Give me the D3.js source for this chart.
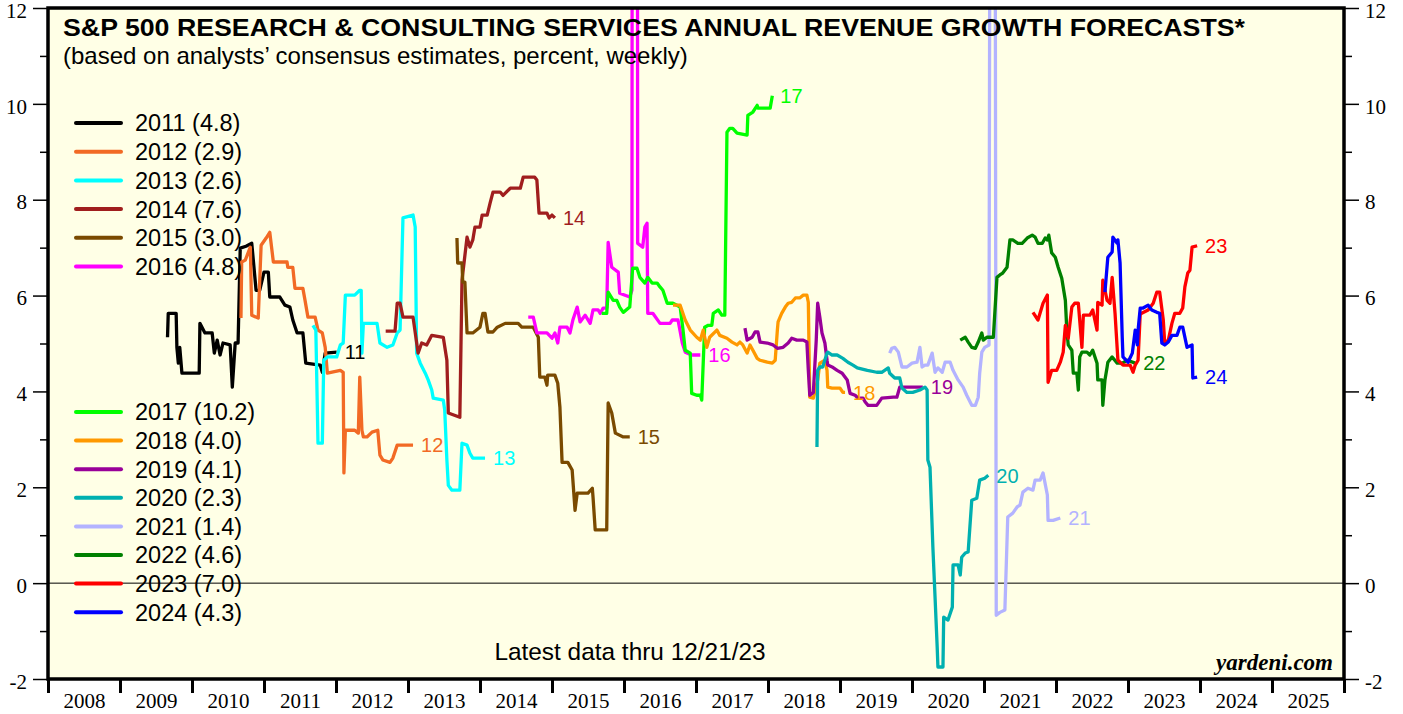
<!DOCTYPE html>
<html lang="en">
<head>
<meta charset="UTF-8">
<title>S&amp;P 500 Research &amp; Consulting Services Revenue Growth Forecasts</title>
<script src="https://d3js.org/d3.v7.min.js"></script>
<style>
  body { margin: 0; background: #fff; }
  svg { display: block; }
  .sans { font-family: Arial, "Liberation Sans", sans-serif; }
  .serif { font-family: "Times New Roman", "Liberation Serif", serif; }
</style>
</head>
<body>
<svg id="chart" width="1403" height="714"></svg>
<script>
// weekly consensus forecasts, [decimal year, percent]
const s2011 = [[2009.66,5.13],[2009.67,5.63],[2009.78,5.63],[2009.79,4.92],[2009.81,4.59],[2009.83,4.92],[2009.86,4.38],[2010.10,4.38],[2010.11,5.42],[2010.18,5.22],[2010.28,5.22],[2010.31,4.80],[2010.35,5.07],[2010.39,4.76],[2010.43,5.01],[2010.53,4.97],[2010.56,4.09],[2010.60,5.01],[2010.64,5.01],[2010.67,6.99],[2010.75,7.03],[2010.83,7.09],[2010.89,6.11],[2010.94,6.11],[2011.00,6.49],[2011.06,6.49],[2011.08,5.97],[2011.22,5.97],[2011.29,5.80],[2011.36,5.76],[2011.40,5.49],[2011.46,5.22],[2011.54,5.22],[2011.58,4.59],[2011.78,4.55],[2011.81,4.40],[2011.85,4.80],[2012.01,4.82]];
const s2012 = [[2010.68,5.53],[2010.69,6.70],[2010.74,6.74],[2010.81,7.01],[2010.83,5.59],[2010.92,5.53],[2010.96,7.05],[2011.03,7.20],[2011.08,7.32],[2011.13,6.70],[2011.32,6.70],[2011.33,6.59],[2011.40,6.59],[2011.43,6.15],[2011.54,6.15],[2011.57,5.90],[2011.61,5.55],[2011.71,5.55],[2011.75,5.28],[2011.81,5.22],[2011.85,4.92],[2011.88,4.38],[2012.06,4.44],[2012.10,4.40],[2012.11,2.30],[2012.13,3.19],[2012.26,3.19],[2012.31,3.13],[2012.33,4.30],[2012.36,3.19],[2012.38,3.05],[2012.43,3.05],[2012.50,3.15],[2012.58,3.19],[2012.61,2.67],[2012.65,2.57],[2012.75,2.52],[2012.79,2.61],[2012.85,2.88],[2013.07,2.88]];
const s2013 = [[2011.68,5.38],[2011.72,5.28],[2011.75,2.92],[2011.81,2.92],[2011.83,4.65],[2011.88,4.72],[2012.01,4.72],[2012.06,4.97],[2012.10,5.01],[2012.13,6.01],[2012.26,6.01],[2012.33,6.11],[2012.35,6.11],[2012.36,4.80],[2012.38,5.42],[2012.57,5.42],[2012.61,5.01],[2012.71,4.92],[2012.79,4.97],[2012.85,5.22],[2012.89,5.28],[2012.93,7.62],[2013.07,7.68],[2013.10,7.43],[2013.12,4.80],[2013.17,4.59],[2013.24,4.38],[2013.28,4.24],[2013.33,4.03],[2013.35,3.86],[2013.49,3.82],[2013.51,3.61],[2013.54,2.57],[2013.56,2.04],[2013.61,1.94],[2013.72,1.94],[2013.75,2.92],[2013.82,2.88],[2013.86,2.71],[2013.90,2.61],[2014.07,2.61]];
const s2014 = [[2012.69,5.26],[2012.82,5.26],[2012.85,5.84],[2012.89,5.84],[2012.93,5.55],[2013.07,5.55],[2013.14,4.80],[2013.19,5.01],[2013.26,4.97],[2013.33,5.17],[2013.49,5.13],[2013.54,4.65],[2013.56,3.55],[2013.72,3.46],[2013.75,6.32],[2013.82,7.22],[2013.86,7.01],[2013.90,7.16],[2013.93,7.43],[2014.00,7.43],[2014.03,7.68],[2014.10,7.68],[2014.14,7.93],[2014.18,8.16],[2014.28,8.16],[2014.32,8.09],[2014.42,8.24],[2014.56,8.24],[2014.60,8.47],[2014.76,8.47],[2014.79,8.41],[2014.82,7.72],[2014.93,7.72],[2014.96,7.62],[2015.00,7.68],[2015.04,7.62]];
const s2015 = [[2013.68,7.20],[2013.69,6.68],[2013.75,6.68],[2013.76,6.28],[2013.79,6.28],[2013.82,5.22],[2013.90,5.22],[2014.00,5.34],[2014.04,5.63],[2014.07,5.63],[2014.11,5.24],[2014.18,5.24],[2014.24,5.34],[2014.35,5.42],[2014.53,5.42],[2014.58,5.34],[2014.74,5.34],[2014.81,5.13],[2014.83,4.30],[2014.90,4.30],[2014.93,4.13],[2014.94,4.34],[2015.04,4.34],[2015.08,4.17],[2015.11,3.67],[2015.14,2.52],[2015.22,2.52],[2015.28,2.36],[2015.32,1.52],[2015.35,1.88],[2015.50,1.88],[2015.56,1.98],[2015.57,1.79],[2015.60,1.11],[2015.76,1.11],[2015.78,3.76],[2015.83,3.55],[2015.88,3.13],[2015.99,3.05],[2016.08,3.05]];
const s2016 = [[2014.67,5.55],[2014.74,5.55],[2014.79,5.22],[2014.93,5.22],[2015.00,5.11],[2015.04,5.22],[2015.08,5.01],[2015.11,5.34],[2015.21,5.34],[2015.25,5.22],[2015.29,5.49],[2015.35,5.76],[2015.39,5.45],[2015.46,5.59],[2015.53,5.42],[2015.57,5.70],[2015.64,5.70],[2015.67,5.63],[2015.71,5.74],[2015.76,5.74],[2015.78,7.11],[2015.83,6.59],[2015.92,6.49],[2015.94,6.05],[2016.08,5.97],[2016.11,6.11],[2016.12,30],[2016.18,30],[2016.19,7.09],[2016.26,7.01],[2016.29,7.43],[2016.32,7.51],[2016.33,5.63],[2016.40,5.63],[2016.50,5.42],[2016.64,5.42],[2016.67,5.49],[2016.75,5.49],[2016.81,5.01],[2016.85,4.82],[2016.94,4.76],[2017.06,4.76]];
const s2017 = [[2015.69,5.63],[2015.76,5.63],[2015.78,6.07],[2015.85,5.90],[2015.90,5.90],[2015.94,5.76],[2015.99,5.65],[2016.08,5.76],[2016.12,6.57],[2016.18,6.57],[2016.22,6.38],[2016.29,6.26],[2016.33,6.38],[2016.39,6.26],[2016.46,6.26],[2016.50,6.18],[2016.54,6.11],[2016.60,5.84],[2016.68,5.84],[2016.78,5.76],[2016.82,5.28],[2016.85,4.86],[2016.92,4.80],[2016.94,3.96],[2017.01,3.92],[2017.06,3.92],[2017.08,3.82],[2017.12,5.34],[2017.17,5.38],[2017.22,5.38],[2017.24,5.63],[2017.31,5.70],[2017.36,5.59],[2017.40,5.59],[2017.43,9.41],[2017.47,9.49],[2017.51,9.49],[2017.57,9.39],[2017.71,9.35],[2017.72,9.76],[2017.79,9.83],[2017.85,9.97],[2017.86,9.91],[2018.03,9.91],[2018.06,10.17]];
const s2018 = [[2016.68,5.80],[2016.78,5.80],[2016.85,5.49],[2016.92,5.28],[2017.01,5.13],[2017.06,5.07],[2017.10,5.28],[2017.15,4.92],[2017.19,5.13],[2017.29,5.28],[2017.33,5.17],[2017.43,5.11],[2017.50,5.03],[2017.57,4.97],[2017.61,5.03],[2017.65,4.97],[2017.71,4.80],[2017.75,4.97],[2017.79,4.86],[2017.85,4.69],[2017.89,4.65],[2017.99,4.61],[2018.06,4.59],[2018.10,4.65],[2018.13,5.28],[2018.14,5.45],[2018.19,5.63],[2018.24,5.76],[2018.28,5.84],[2018.33,5.86],[2018.38,5.95],[2018.44,5.95],[2018.49,6.01],[2018.54,6.01],[2018.56,5.86],[2018.58,3.88],[2018.63,3.86],[2018.69,4.24],[2018.72,4.59],[2018.79,4.65],[2018.82,4.44],[2018.83,4.09],[2018.89,4.07],[2019.00,4.07],[2019.04,3.98],[2019.07,3.98]];
const s2019 = [[2017.68,5.32],[2017.71,5.07],[2017.78,5.13],[2017.82,5.24],[2017.86,5.24],[2017.89,5.03],[2017.99,5.01],[2018.07,4.97],[2018.13,4.90],[2018.21,4.92],[2018.28,5.01],[2018.33,5.11],[2018.40,5.07],[2018.49,5.07],[2018.54,5.03],[2018.56,4.44],[2018.58,3.92],[2018.63,3.98],[2018.67,5.07],[2018.69,5.84],[2018.72,5.55],[2018.75,5.22],[2018.79,5.01],[2018.82,4.65],[2018.83,4.55],[2018.89,4.51],[2018.96,4.44],[2019.03,4.38],[2019.10,4.24],[2019.14,3.96],[2019.21,3.92],[2019.25,3.86],[2019.32,3.86],[2019.35,3.78],[2019.39,3.71],[2019.51,3.71],[2019.58,3.86],[2019.74,3.88],[2019.79,3.88],[2019.83,4.09],[2020.15,4.09]];
const s2020 = [[2018.68,2.84],[2018.69,4.44],[2018.72,4.51],[2018.76,4.51],[2018.82,4.80],[2018.83,4.82],[2018.89,4.76],[2018.96,4.76],[2019.04,4.69],[2019.11,4.61],[2019.18,4.55],[2019.24,4.49],[2019.38,4.44],[2019.51,4.40],[2019.58,4.40],[2019.67,4.49],[2019.69,4.38],[2019.76,4.28],[2019.83,4.28],[2019.86,4.07],[2019.93,3.98],[2020.01,3.98],[2020.11,4.03],[2020.18,4.09],[2020.21,4.03],[2020.22,2.57],[2020.25,2.42],[2020.29,0.75],[2020.32,-0.29],[2020.35,-1.34],[2020.36,-1.75],[2020.43,-1.75],[2020.44,-0.71],[2020.50,-0.77],[2020.56,-0.50],[2020.57,0.38],[2020.64,0.38],[2020.67,0.17],[2020.69,0.54],[2020.74,0.63],[2020.78,0.65],[2020.83,1.73],[2020.90,1.77],[2020.94,2.15],[2021.01,2.19],[2021.06,2.25]];
const s2021 = [[2019.69,4.80],[2019.72,4.90],[2019.76,4.92],[2019.81,4.82],[2019.86,4.51],[2019.93,4.51],[2020.00,4.59],[2020.07,4.61],[2020.11,4.92],[2020.14,4.51],[2020.18,4.55],[2020.22,4.55],[2020.28,4.80],[2020.32,4.40],[2020.36,4.49],[2020.42,4.40],[2020.46,4.61],[2020.53,4.61],[2020.57,4.44],[2020.64,4.24],[2020.71,4.09],[2020.76,3.92],[2020.83,3.71],[2020.88,3.71],[2020.92,3.88],[2020.94,4.38],[2020.97,4.82],[2021.01,4.92],[2021.07,4.97],[2021.10,30],[2021.14,30],[2021.17,-0.67],[2021.22,-0.61],[2021.29,-0.56],[2021.33,1.38],[2021.40,1.46],[2021.46,1.59],[2021.50,1.63],[2021.54,1.90],[2021.61,1.98],[2021.68,1.94],[2021.71,2.15],[2021.78,2.15],[2021.82,2.30],[2021.88,1.84],[2021.89,1.31],[2021.96,1.31],[2022.06,1.36]];
const s2022 = [[2020.67,5.07],[2020.74,5.13],[2020.78,5.03],[2020.83,4.92],[2020.88,4.90],[2020.92,5.03],[2020.97,5.22],[2020.99,5.07],[2021.04,5.13],[2021.13,5.13],[2021.18,6.38],[2021.22,6.43],[2021.26,6.47],[2021.32,6.59],[2021.36,7.16],[2021.40,7.16],[2021.47,7.09],[2021.53,7.09],[2021.60,7.20],[2021.67,7.26],[2021.71,7.22],[2021.75,7.09],[2021.81,7.09],[2021.85,7.20],[2021.88,7.16],[2021.90,7.26],[2021.94,6.89],[2021.99,6.80],[2022.03,6.59],[2022.08,6.36],[2022.13,5.90],[2022.15,5.28],[2022.17,4.97],[2022.22,4.86],[2022.24,4.38],[2022.29,4.38],[2022.31,4.03],[2022.33,4.72],[2022.36,4.82],[2022.43,4.82],[2022.47,4.76],[2022.51,4.86],[2022.57,4.59],[2022.58,4.24],[2022.64,4.24],[2022.65,3.71],[2022.68,4.24],[2022.71,4.51],[2022.72,4.61],[2022.78,4.72],[2022.85,4.59],[2022.92,4.59],[2022.99,4.65],[2023.10,4.59]];
const s2023 = [[2021.68,5.65],[2021.75,5.49],[2021.82,5.84],[2021.88,6.01],[2021.89,4.19],[2021.94,4.44],[2022.01,4.44],[2022.06,4.61],[2022.10,4.82],[2022.13,5.38],[2022.17,5.11],[2022.22,5.76],[2022.26,5.84],[2022.31,5.84],[2022.36,4.92],[2022.38,5.59],[2022.47,5.59],[2022.51,5.70],[2022.57,5.28],[2022.58,5.86],[2022.64,5.80],[2022.65,6.32],[2022.71,5.90],[2022.75,5.84],[2022.78,6.38],[2022.82,5.63],[2022.86,4.65],[2022.93,4.55],[2023.03,4.55],[2023.07,4.40],[2023.10,4.55],[2023.14,4.65],[2023.17,5.63],[2023.19,5.63],[2023.28,5.70],[2023.35,5.84],[2023.40,6.07],[2023.44,6.07],[2023.49,5.49],[2023.51,5.01],[2023.56,5.07],[2023.61,5.42],[2023.65,5.63],[2023.72,5.63],[2023.76,5.74],[2023.79,6.18],[2023.83,6.47],[2023.86,6.53],[2023.89,7.01],[2023.96,7.04]];
const s2024 = [[2022.68,6.07],[2022.72,6.80],[2022.78,6.91],[2022.79,7.22],[2022.85,7.09],[2022.86,7.16],[2022.89,6.68],[2022.92,5.13],[2022.93,4.72],[2023.00,4.61],[2023.06,4.80],[2023.10,5.28],[2023.13,4.97],[2023.14,5.28],[2023.17,5.74],[2023.21,5.74],[2023.28,5.80],[2023.33,5.70],[2023.40,5.65],[2023.44,5.63],[2023.47,5.01],[2023.51,4.97],[2023.56,5.03],[2023.61,5.17],[2023.68,5.17],[2023.72,5.34],[2023.76,5.34],[2023.82,4.92],[2023.89,4.97],[2023.90,4.28],[2023.96,4.30]];

const years = [2011, 2012, 2013, 2014, 2015, 2016, 2017, 2018, 2019, 2020, 2021, 2022, 2023, 2024];
const latest = ["4.8", "2.9", "2.6", "7.6", "3.0", "4.8", "10.2", "4.0", "4.1", "2.3", "1.4", "4.6", "7.0", "4.3"];
const colors = ["#000000", "#F26A25", "#00FFFF", "#A01E1E", "#7A4A00", "#FF00FF", "#00FF00", "#FF9900",
  "#990099", "#00B0B0", "#B3B3FF", "#008000", "#FF0000", "#0000FF"];
const allSeries = [s2011, s2012, s2013, s2014, s2015, s2016, s2017, s2018, s2019, s2020, s2021, s2022, s2023, s2024];
const xYears = d3.range(2008, 2026);

const svg = d3.select("#chart");
const pLeft = 48, pRight = 1344, pTop = 8, pBottom = 679;

const x = d3.scaleLinear().domain([2008, 2026]).range([pLeft, pRight]);
const y = d3.scaleLinear().domain([-2, 12]).range([pBottom, pTop]);

svg.append("rect")
    .attr("x", pLeft).attr("y", pTop)
    .attr("width", pRight - pLeft).attr("height", pBottom - pTop)
    .attr("fill", "#FFFFE6");

svg.append("clipPath").attr("id", "plot-clip")
  .append("rect")
    .attr("x", pLeft).attr("y", pTop)
    .attr("width", pRight - pLeft).attr("height", pBottom - pTop);

// zero line
svg.append("line")
    .attr("x1", pLeft).attr("x2", pRight)
    .attr("y1", y(0)).attr("y2", y(0))
    .attr("stroke", "#000").attr("stroke-width", 1);

// axes
function styleAxis(g) {
    g.select(".domain").remove();
    g.selectAll("line").attr("stroke", "#000").attr("stroke-width", 1.5);
    g.selectAll("text").attr("class", "serif").attr("font-size", 21).attr("fill", "#000");
}
const majorY = d3.range(-2, 13, 2);
const minorY = d3.range(-1, 12, 2);
const plainNum = d => String(d);   // hyphen minus like the original

svg.append("g").attr("transform", `translate(${pLeft},0)`)
    .call(d3.axisLeft(y).tickValues(majorY).tickSize(15).tickPadding(6).tickFormat(plainNum))
    .call(styleAxis)
    .selectAll("text").attr("dy", "0.44em");
svg.append("g").attr("transform", `translate(${pLeft},0)`)
    .call(d3.axisLeft(y).tickValues(minorY).tickSize(8).tickFormat(""))
    .call(styleAxis);
svg.append("g").attr("transform", `translate(${pRight},0)`)
    .call(d3.axisRight(y).tickValues(majorY).tickSize(15).tickPadding(6).tickFormat(plainNum))
    .call(styleAxis)
    .selectAll("text").attr("dy", "0.44em");
svg.append("g").attr("transform", `translate(${pRight},0)`)
    .call(d3.axisRight(y).tickValues(minorY).tickSize(8).tickFormat(""))
    .call(styleAxis);

svg.append("g").attr("transform", `translate(0,${pBottom})`)
    .call(d3.axisBottom(x).tickValues(d3.range(2008, 2027)).tickSize(14).tickFormat(""))
    .call(styleAxis)
    .selectAll("line").attr("stroke-width", 3);
svg.append("g").attr("transform", `translate(0,${pBottom})`)
    .call(d3.axisBottom(x).tickValues(xYears.map(d => d + 0.5)).tickSize(0).tickPadding(14)
        .tickFormat(d => Math.floor(d)))
    .call(styleAxis);

// series
const line = d3.line().x(d => x(d[0])).y(d => y(d[1]));
const plot = svg.append("g").attr("clip-path", "url(#plot-clip)");
allSeries.forEach((s, i) => {
    plot.append("path")
        .datum(s)
        .attr("d", line)
        .attr("fill", "none")
        .attr("stroke", colors[i])
        .attr("stroke-width", 3.3)
        .attr("stroke-linejoin", "round");
    const last = s[s.length - 1];
    svg.append("text")
        .attr("class", "sans")
        .attr("x", x(last[0]) + 8)
        .attr("y", y(last[1]))
        .attr("dy", "0.36em")
        .attr("font-size", 20)
        .attr("fill", colors[i])
        .text(String(years[i]).slice(2));
});

// frame
svg.append("rect")
    .attr("x", pLeft).attr("y", pTop)
    .attr("width", pRight - pLeft).attr("height", pBottom - pTop)
    .attr("fill", "none").attr("stroke", "#000").attr("stroke-width", 3.5);

// titles
svg.append("text").attr("class", "sans")
    .attr("x", 63).attr("y", 36)
    .attr("font-size", 24).attr("font-weight", "bold")
    .attr("textLength", 1182).attr("lengthAdjust", "spacingAndGlyphs")
    .text("S&P 500 RESEARCH & CONSULTING SERVICES ANNUAL REVENUE GROWTH FORECASTS*");
svg.append("text").attr("class", "sans")
    .attr("x", 63).attr("y", 64)
    .attr("font-size", 24)
    .text("(based on analysts\u2019 consensus estimates, percent, weekly)");

// legend: two groups
const legendY = years.map((d, i) => i < 6 ? 123 + i * 28.7 : 412 + (i - 6) * 28.6);
const legend = svg.append("g").selectAll("g").data(years).join("g")
    .attr("transform", (d, i) => `translate(0,${legendY[i]})`);
legend.append("line")
    .attr("x1", 76).attr("x2", 121)
    .attr("stroke", (d, i) => colors[i])
    .attr("stroke-width", 4)
    .attr("stroke-linecap", "round");
legend.append("text")
    .attr("class", "sans")
    .attr("x", 135).attr("dy", "0.36em")
    .attr("font-size", 23.5)
    .text((d, i) => `${d} (${latest[i]})`);

svg.append("text").attr("class", "sans")
    .attr("x", 630).attr("y", 660)
    .attr("text-anchor", "middle")
    .attr("font-size", 24.4)
    .text("Latest data thru 12/21/23");

svg.append("text").attr("class", "serif")
    .attr("x", 1333).attr("y", 670)
    .attr("text-anchor", "end")
    .attr("font-size", 23).attr("font-weight", "bold").attr("font-style", "italic")
    .text("yardeni.com");
</script>
</body>
</html>
